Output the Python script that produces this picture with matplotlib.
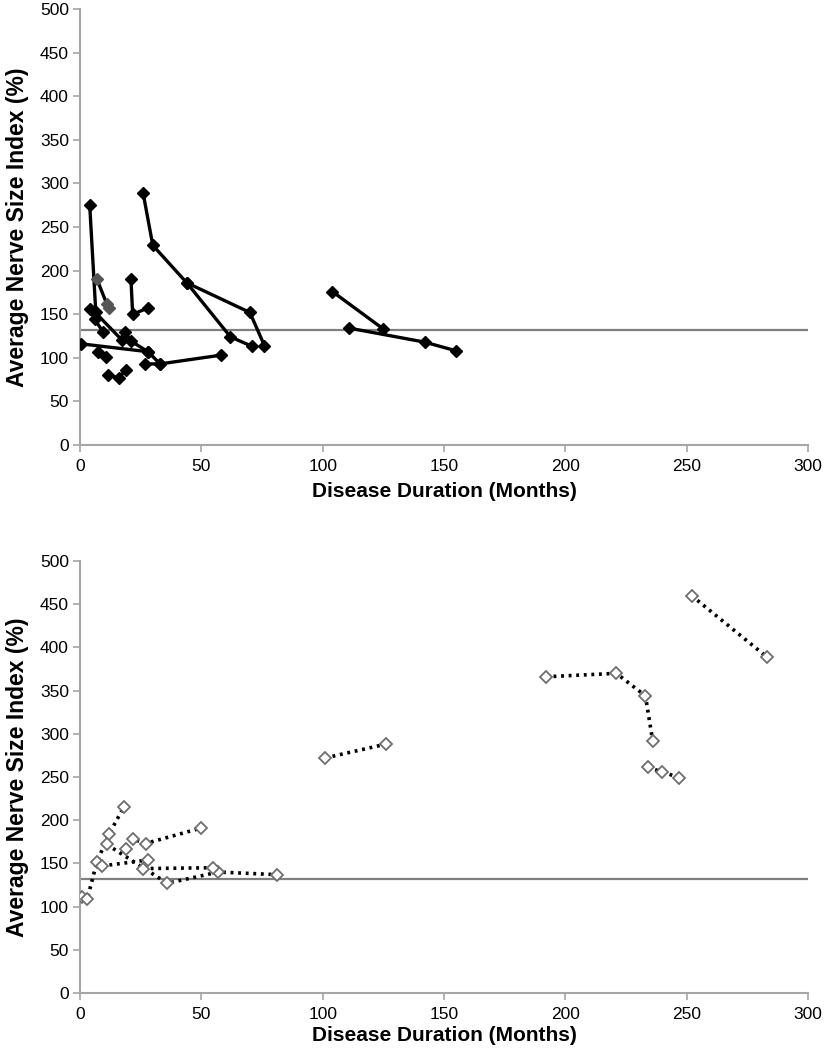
import matplotlib
matplotlib.use("Agg")
import matplotlib.pyplot as plt

plt.rcParams['font.family'] = ['Liberation Sans', 'DejaVu Sans']

# ---- Top panel: solid lines, filled diamonds ----
top_x = [
    [4, 6.5],
    [4, 6, 9.5],
    [6.3, 17.4],
    [18.4, 21.1, 28, 33],
    [0.5, 28],
    [26.7, 33, 58],
    [7.4, 10.8],
    [11.7, 16, 18.8],
    [21, 21.7, 28],
    [26, 30, 44, 62, 71],
    [44, 70, 76],
    [104, 125],
    [111, 142, 155],
]
top_y = [
    [275, 153],
    [156, 144, 130],
    [152, 120],
    [130, 119, 107, 93],
    [116, 107],
    [93, 93, 103],
    [107, 101],
    [80, 77, 86],
    [190, 150, 157],
    [289, 229, 186, 124, 113],
    [186, 152, 114],
    [176, 133],
    [134, 118, 108],
]
grey_x = [7, 11, 12]
grey_y = [190, 162, 157]

# ---- Bottom panel: dotted lines, open diamonds ----
bot_x = [
    [1, 3, 7, 12, 18],
    [11, 36, 57, 81],
    [9, 28],
    [26, 55],
    [19, 22, 27, 50],
    [101, 126],
    [192, 221, 233, 236],
    [234, 240, 247],
    [252, 283],
]
bot_y = [
    [111, 109, 152, 184, 215],
    [172, 127, 140, 137],
    [147, 154],
    [144, 145],
    [167, 178, 173, 191],
    [272, 288],
    [366, 370, 344, 292],
    [261, 256, 249],
    [460, 389],
]

threshold = 132
x_ticks = [0, 50, 100, 150, 200, 250, 300]
y_ticks = [0, 50, 100, 150, 200, 250, 300, 350, 400, 450, 500]
xlabel = "Disease Duration (Months)"
ylabel = "Average Nerve Size Index (%)"

W, H = 824, 1050
fig = plt.figure(figsize=(W / 100, H / 100), dpi=100)

def frac_axes(left, right, top, bottom):
    return fig.add_axes([left / W, 1 - bottom / H, (right - left) / W, (bottom - top) / H])

ax1 = frac_axes(80, 808, 9, 445)
ax2 = frac_axes(80, 808, 561, 993)

for ax, xpad in ((ax1, 6), (ax2, 3)):
    ax.set_xlim(0, 300)
    ax.set_ylim(0, 500)
    ax.set_xticks(x_ticks)
    ax.set_yticks(y_ticks)
    for s in ('top', 'right'):
        ax.spines[s].set_visible(False)
    for s in ('left', 'bottom'):
        ax.spines[s].set_color('#a6a6a6')
        ax.spines[s].set_linewidth(1.5)
    ax.tick_params(axis='both', direction='out', length=5, width=1.2, color='#a6a6a6',
                   labelsize=12.5, labelcolor='black', pad=3)
    ax.tick_params(axis='x', pad=5)
    ax.axhline(threshold, color='#7f7f7f', lw=1.6, zorder=1)
    ax.set_xlabel(xlabel, fontsize=15, fontweight='bold', labelpad=xpad)
    ax.set_ylabel(ylabel, fontsize=16.5, fontweight='bold', labelpad=8)

for xs, ys in zip(top_x, top_y):
    ax1.plot(xs, ys, color='black', lw=2.4, marker='D', markersize=6,
             markerfacecolor='black', markeredgecolor='black', zorder=3)
ax1.plot(grey_x, grey_y, color='black', lw=2.4, marker='D', markersize=6,
         markerfacecolor='#555555', markeredgecolor='#555555', zorder=3)

for xs, ys in zip(bot_x, bot_y):
    ax2.plot(xs, ys, color='black', lw=2.6, linestyle=(0, (0.8, 1.3)),
             marker='D', markersize=6.5, markerfacecolor='white',
             markeredgecolor='#6e6e6e', markeredgewidth=1.3, zorder=3)

fig.savefig("out.png", dpi=100)
